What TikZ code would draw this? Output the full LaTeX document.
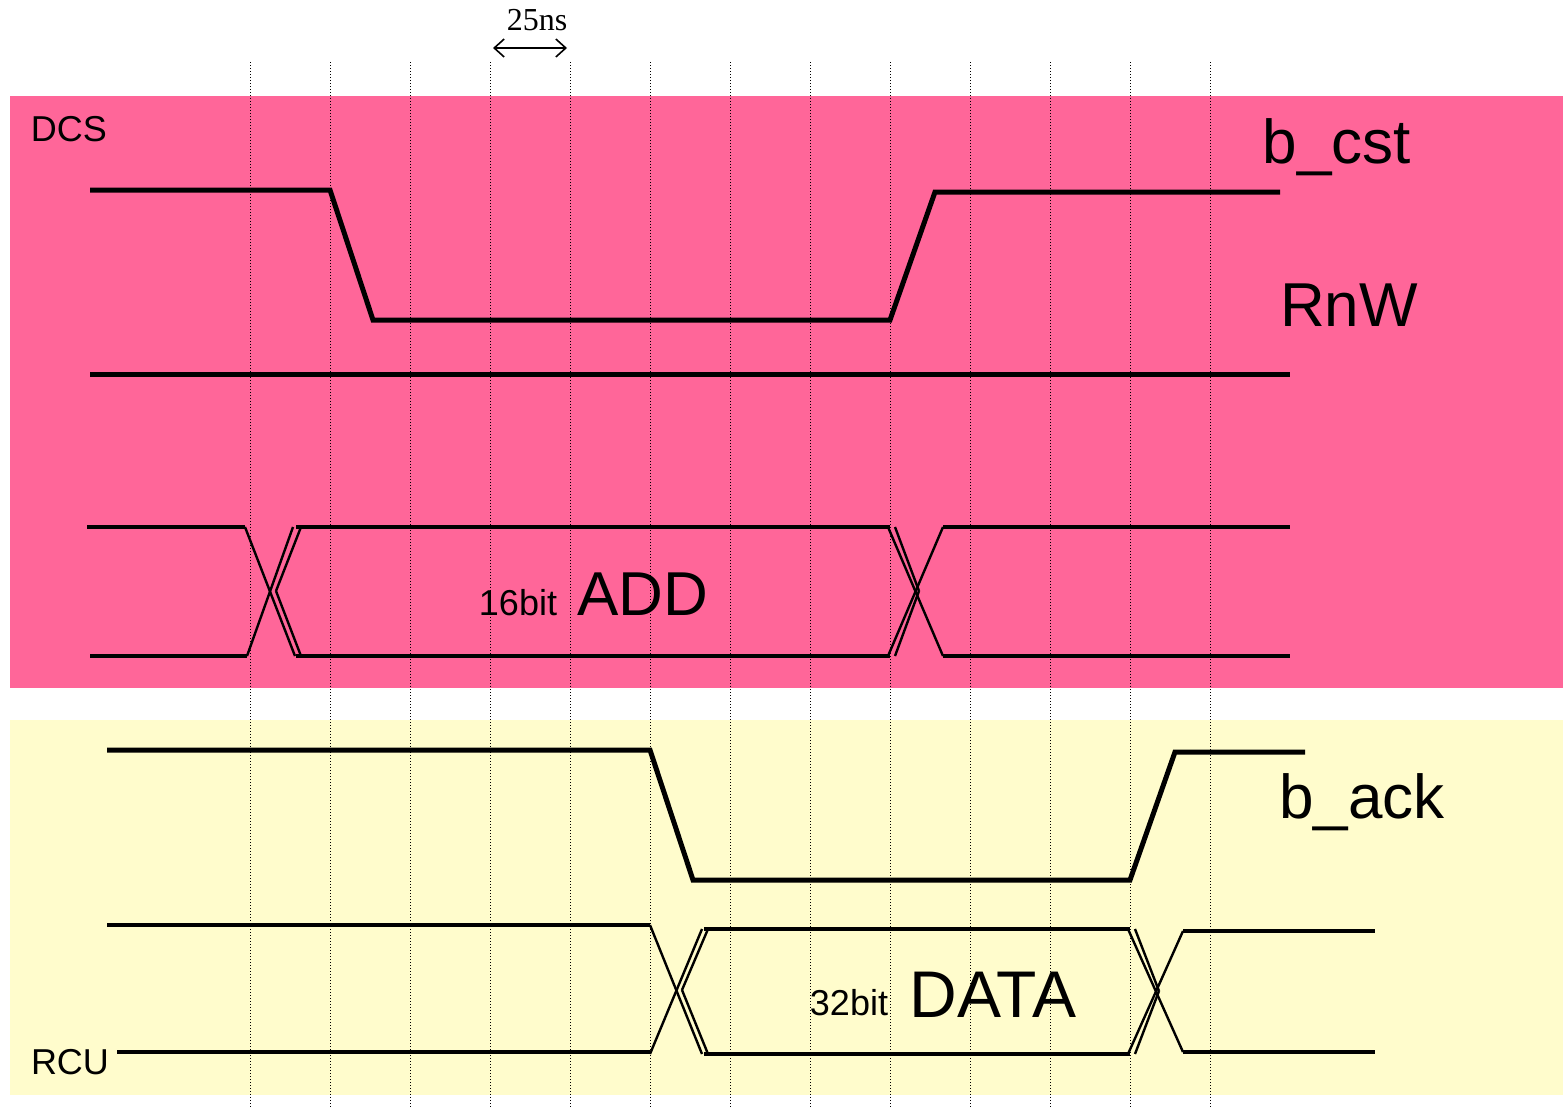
\documentclass[tikz,border=0pt]{standalone}
\usepackage{fontspec}
\setmainfont{Liberation Sans}
\newfontfamily\nsfont{Liberation Serif}
\usetikzlibrary{arrows.meta}
\definecolor{dcspink}{RGB}{255,102,153}
\definecolor{rcuyellow}{RGB}{255,252,204}

\begin{document}
\begin{tikzpicture}[
      x=0.5pt, y=-0.5pt,
      sig/.style={line width=2.5pt},
      bus/.style={line width=1.6pt},
      cross/.style={line width=1.2pt},
      tick/.style={line width=0.5pt, dash pattern=on 0.5pt off 1pt},
      big/.style={font=\fontsize{31}{31}\selectfont},
      small/.style={font=\fontsize{18}{18}\selectfont}
    ]
    \useasboundingbox (0,0) rectangle (1563,1108);
    \fill[dcspink] (10,96) rectangle (1563,688);
    \fill[rcuyellow] (10,720) rectangle (1563,1095);
    \foreach \x in {250,330,...,1210}
      \draw[tick] (\x,62) -- (\x,1108);

    % time scale
    \coordinate (t0) at (493,48);
    \coordinate (t1) at (567,48);
    \draw[line width=0.8pt, {Straight Barb[length=5pt,width=9pt]}-{Straight Barb[length=5pt,width=9pt]}] (t0) -- (t1);
    \node (ns) at (537,20) {\nsfont\fontsize{16}{16}\selectfont 25ns};

    % DCS side
    \node (dcs) [small] at (69,129) {DCS};
    \node (bcst) [big] at (1337,147) {b\_cst};
    \node (rnw) [big] at (1349,305) {RnW};
    \draw[sig] (90,190) -- (330,190) -- (373,320) -- (890,320) -- (935,192) -- (1280,192);
    \draw[sig] (90,374) -- (1290,374);
    % address bus
    \draw[bus] (87,527) -- (245,527);
    \draw[bus] (90,656) -- (247,656);
    \draw[cross] (245,527) -- (295,656);
    \draw[cross] (247,656) -- (293,527);
    \draw[cross] (276,591) -- (301,527);
    \draw[cross] (276,591) -- (301,656);
    \draw[bus] (296,527) -- (890,527);
    \draw[bus] (296,656) -- (890,656);
    \draw[cross] (888,527) -- (943,656);
    \draw[cross] (888,656) -- (943,527);
    \draw[cross] (895,527) -- (919,591);
    \draw[cross] (895,656) -- (919,591);
    \draw[bus] (943,527) -- (1290,527);
    \draw[bus] (943,656) -- (1290,656);
    \node (addw) [small] at (518,603) {16bit};
    \node (add) [big] at (643,594) {ADD};

    % RCU side
    \node (rcu) [small] at (70,1062) {RCU};
    \node (back) [big] at (1362,802) {b\_ack};
    \draw[sig] (107,750) -- (650,750) -- (693,880) -- (1130,880) -- (1175,752) -- (1305,752);
    % data bus
    \draw[bus] (107,925) -- (650,925);
    \draw[bus] (117,1052) -- (650,1052);
    \draw[cross] (650,925) -- (702,1054);
    \draw[cross] (650,1054) -- (702,929);
    \draw[cross] (682,990) -- (708,929);
    \draw[cross] (682,990) -- (708,1054);
    \draw[bus] (704,929) -- (1130,929);
    \draw[bus] (704,1054) -- (1130,1054);
    \draw[cross] (1128,929) -- (1183,1052);
    \draw[cross] (1128,1054) -- (1183,931);
    \draw[cross] (1135,929) -- (1159,991);
    \draw[cross] (1135,1054) -- (1159,991);
    \draw[bus] (1183,931) -- (1375,931);
    \draw[bus] (1183,1052) -- (1375,1052);
    \node (dataw) [small] at (849,1003) {32bit};
    \node (data) [font=\fontsize{33}{33}\selectfont] at (993,995) {DATA};
  \end{tikzpicture}
\end{document}
